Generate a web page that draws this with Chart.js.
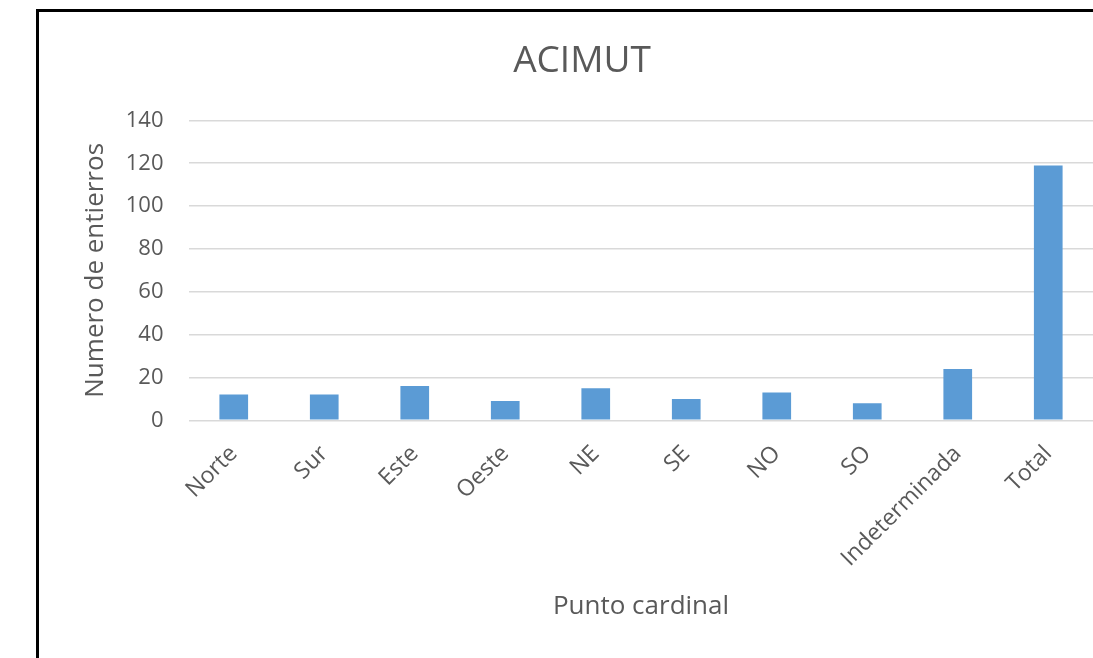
<!DOCTYPE html>
<html>
<head>
<meta charset="utf-8">
<script src="https://cdn.jsdelivr.net/npm/chart.js@4.4.1/dist/chart.umd.min.js"></script>
<style>
  html, body { margin: 0; padding: 0; background: #fff; overflow: hidden; }
  body { width: 1093px; height: 658px; position: relative; }
  #marco {
    position: absolute; left: 36px; top: 9px;
    width: 1200px; height: 700px;
    border-left: 3px solid #000; border-top: 3px solid #000;
  }
  #caja { position: absolute; left: 39px; top: 12px; width: 1100px; height: 646px; }
</style>
</head>
<body>
<div id="marco"></div>
<div id="caja"><canvas id="grafico"></canvas></div>
<script>
const categorias = ["Norte", "Sur", "Este", "Oeste", "NE", "SE", "NO", "SO", "Indeterminada", "Total"];
const entierros = [12, 12, 16, 9, 15, 10, 13, 8, 24, 119];
const ticksY = [0, 20, 40, 60, 80, 100, 120, 140];

const gris = "#595959";
const fuente = "'Open Sans', sans-serif";

const ctx = document.getElementById("grafico").getContext("2d");
new Chart(ctx, {
  type: "bar",
  data: {
    labels: categorias,
    datasets: [{
      label: "Numero de entierros",
      data: entierros,
      backgroundColor: "#5B9BD5",
      categoryPercentage: 1,
      barPercentage: 0.317
    }]
  },
  options: {
    responsive: true,
    maintainAspectRatio: false,
    animation: false,
    layout: { padding: { left: 31.5, right: 45.5, top: 0, bottom: 0 } },
    plugins: {
      legend: { display: false },
      tooltip: { enabled: false },
      title: {
        display: true,
        text: "ACIMUT",
        color: gris,
        font: { family: fuente, size: 37, weight: "normal" },
        padding: { top: 27, bottom: 37 }
      }
    },
    scales: {
      x: {
        grid: { display: false },
        border: { display: false },
        ticks: {
          color: gris,
          font: { family: fuente, size: 23 },
          minRotation: 45,
          maxRotation: 45,
          padding: 12
        },
        title: {
          display: true,
          text: "Punto cardinal",
          color: gris,
          font: { family: fuente, size: 26 },
          padding: { top: 10, bottom: 36 }
        },
        afterFit: s => { s.height = 237.7; }
      },
      y: {
        min: 0,
        max: 140,
        afterBuildTicks: s => { s.ticks = ticksY.map(v => ({ value: v })); },
        grid: { color: "#D9D9D9", lineWidth: 1.5, drawTicks: false },
        border: { display: false },
        ticks: {
          color: gris,
          font: { family: fuente, size: 22 },
          padding: 25
        },
        title: {
          display: true,
          text: "Numero de entierros",
          color: gris,
          font: { family: fuente, size: 26 },
          padding: { top: 9, bottom: 8 }
        },
        afterFit: s => { s.width = 118; }
      }
    }
  }
});
</script>
</body>
</html>
